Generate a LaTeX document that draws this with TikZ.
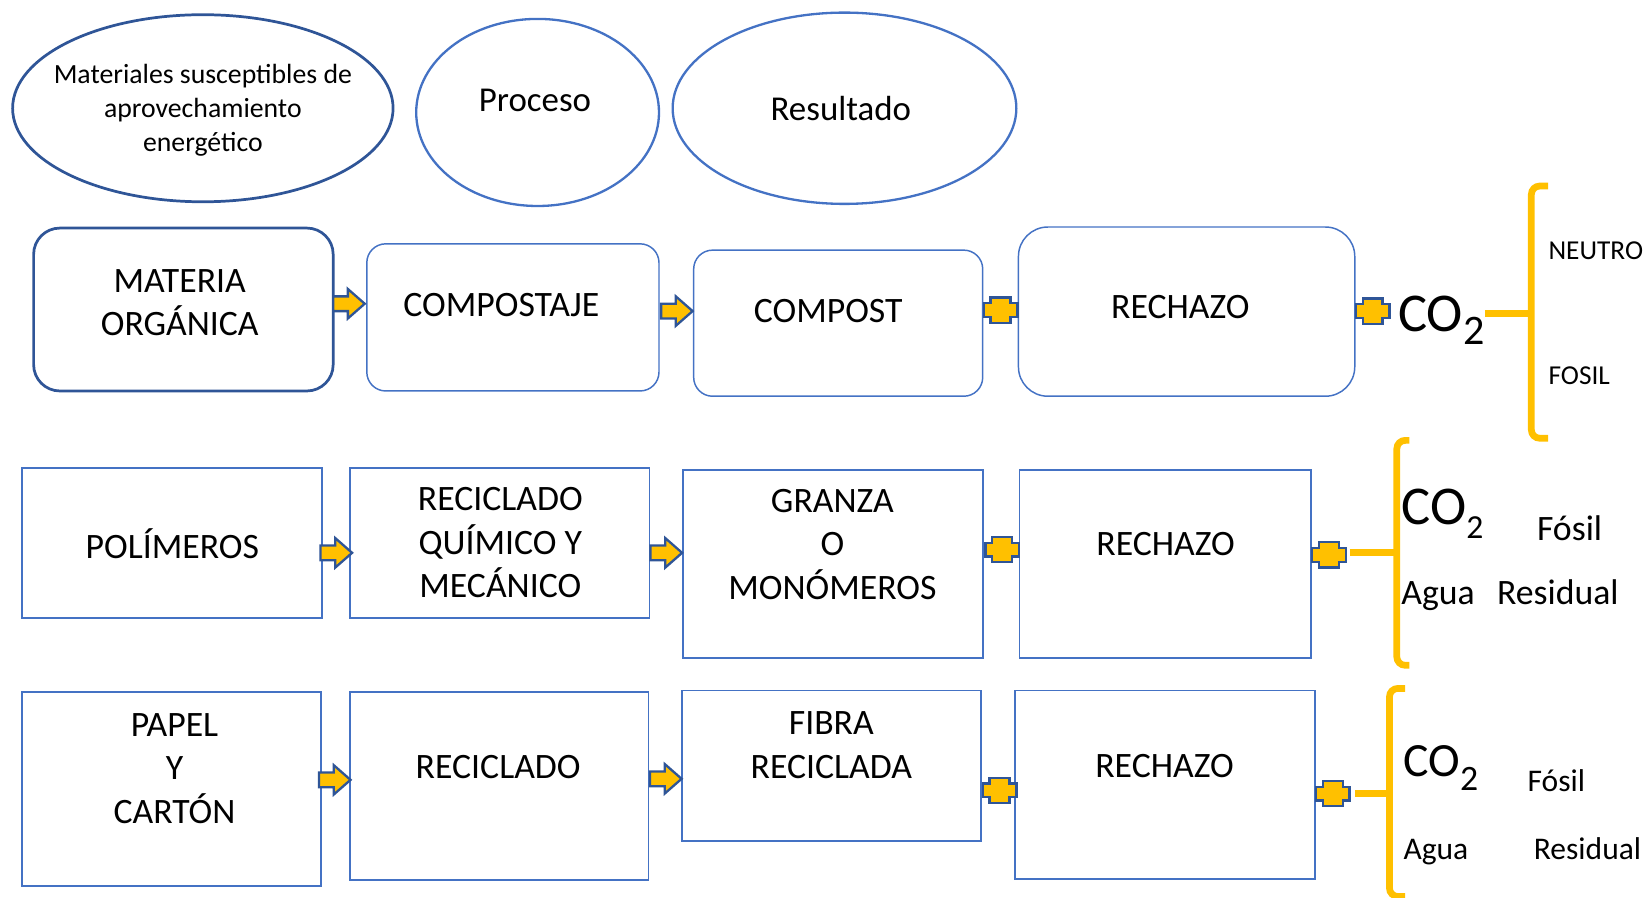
\documentclass[tikz,border=0pt]{standalone}
\usepackage{fontspec}
\setmainfont{Carlito}
\usetikzlibrary{fit,shapes.geometric,calc}
\definecolor{dkblue}{HTML}{2F5597}
\definecolor{mdblue}{HTML}{4472C4}
\definecolor{gold}{HTML}{FFC000}
\begin{document}
\begin{tikzpicture}[x=0.5pt,y=-0.5pt,
  ell/.style={ellipse, draw=mdblue, line width=1.1pt, inner sep=0pt},
  rbox/.style={draw=mdblue, line width=0.7pt, rounded corners=9pt, inner sep=0pt},
  sbox/.style={draw=mdblue, line width=0.9pt, inner sep=0pt},
  lbl/.style={align=center, font=\fontsize{17}{20.7}\selectfont, inner sep=0pt},
  side/.style={anchor=base west, inner sep=0pt},
  brace/.style={draw=gold, line width=3.2pt, rounded corners=4pt},
  blockarrow/.pic={\filldraw[fill=gold, draw=dkblue, line width=1.1pt, line join=miter]
     (-15,-7) -- (-1,-7) -- (-1,-14) -- (15,0) -- (-1,14) -- (-1,7) -- (-15,7) -- cycle;},
  plusmark/.pic={\filldraw[fill=gold, draw=dkblue, line width=1.1pt]
     (-9.5,-12) -- (9.5,-12) -- (9.5,-6.5) -- (16,-6.5) -- (16,6.5) -- (9.5,6.5) -- (9.5,12)
     -- (-9.5,12) -- (-9.5,6.5) -- (-16,6.5) -- (-16,-6.5) -- (-9.5,-6.5) -- cycle;}
]
\useasboundingbox (0,0) rectangle (1568,854);

% header ellipses
\node[ell, draw=dkblue, line width=1.3pt, minimum width=181pt, minimum height=89pt] (e1) at (193,103) {};
\node[ell, minimum width=115.5pt, minimum height=89pt] (e2) at (511.5,107) {};
\node[ell, minimum width=163.5pt, minimum height=91pt] (e3) at (803.5,103) {};
\node[align=center, font=\fontsize{13.2}{16}\selectfont, inner sep=0pt] (e1t) at (193,105)
  {Materiales susceptibles de\\aprovechamiento\\energético};
\node[font=\fontsize{16.6}{19}\selectfont, inner sep=0pt] (e2t) at (509,96) {Proceso};
\node[font=\fontsize{16.6}{19}\selectfont, inner sep=0pt] (e3t) at (800,103) {Resultado};

% row 1
\node[rbox, draw=dkblue, line width=1.3pt, rounded corners=12.5pt, fit={(32,217)(317,372)}] (mo) {};
\node[rbox, fit={(349,232)(627,372)}] (cj) {};
\node[rbox, fit={(660,238)(935,377)}] (cp) {};
\node[rbox, rounded corners=14pt, fit={(969,216)(1289,377)}] (rz1) {};
\node[lbl] (mot) at (171,288) {MATERIA\\ORGÁNICA};
\node[lbl] (cjt) at (477,290) {COMPOSTAJE};
\node[lbl] (cpt) at (788,296) {COMPOST};
\node[lbl] (rz1t) at (1123,292) {RECHAZO};
\pic at (332,289) {blockarrow};
\pic at (644,296) {blockarrow};
\pic at (952,295) {plusmark};
\pic at (1306,296) {plusmark};
\node[side, font=\fontsize{26}{26}\selectfont] (co1) at (1330,315.5)
  {CO\raisebox{-6.3pt}{\fontsize{20}{20}\selectfont 2}};
\draw[brace] (1473,177) -- (1457,177) -- (1457,417) -- (1473,417);
\draw[brace, rounded corners=0pt] (co1.east |- 0,298) -- (1457,298);
\node[side, font=\fontsize{13}{15}\selectfont] (neu) at (1473,246.5) {NEUTRO};
\node[side, font=\fontsize{13}{15}\selectfont] (fos) at (1473,366) {FOSIL};

% row 2
\node[sbox, fit={(21,445)(306,588)}] (pol) {};
\node[sbox, fit={(333,445)(618,588)}] (rq) {};
\node[sbox, fit={(650,447)(935,626)}] (gr) {};
\node[sbox, fit={(970,447)(1247,626)}] (rz2) {};
\node[lbl] (polt) at (164,517) {POLÍMEROS};
\node[lbl] (rqt) at (476,516.5) {RECICLADO\\QUÍMICO Y\\MECÁNICO};
\node[lbl] (grt) at (792,518) {GRANZA\\O\\MONÓMEROS};
\node[lbl] (rz2t) at (1109,518) {RECHAZO};
\pic at (320,526) {blockarrow};
\pic at (634,526) {blockarrow};
\pic at (953.5,523) {plusmark};
\pic at (1264.5,528) {plusmark};
\draw[brace] (1341,419) -- (1329,419) -- (1329,633) -- (1341,633);
\draw[brace, rounded corners=0pt] (1284,526) -- (1329,526);
\node[side, font=\fontsize{26}{26}\selectfont] (co2) at (1333,499.5)
  {CO\raisebox{-6.3pt}{\fontsize{16}{16}\selectfont 2}};
\node[side, font=\fontsize{17}{20}\selectfont] (fo2) at (1462,514) {Fósil};
\node[side, font=\fontsize{17}{20}\selectfont] (ag2) at (1333,575.6) {Agua};
\node[side, font=\fontsize{17}{20}\selectfont] (re2) at (1424,575.6) {Residual};

% row 3
\node[sbox, fit={(21,658)(305,843)}] (pc) {};
\node[sbox, fit={(333,658)(617,837)}] (rc) {};
\node[sbox, fit={(649,657)(933,800)}] (fb) {};
\node[sbox, fit={(966,657)(1251,836)}] (rz3) {};
\node[lbl] (pct) at (166,731) {PAPEL\\Y\\CARTÓN};
\node[lbl] (rct) at (474,730) {RECICLADO};
\node[lbl] (fbt) at (791,709) {FIBRA\\RECICLADA};
\node[lbl] (rz3t) at (1108,729) {RECHAZO};
\pic at (318.5,742) {blockarrow};
\pic at (633.5,741) {blockarrow};
\pic at (951,752) {plusmark};
\pic at (1268,755) {plusmark};
\draw[brace] (1337,655) -- (1322,655) -- (1322,853) -- (1337,853);
\draw[brace, rounded corners=0pt] (1289,755) -- (1322,755);
\node[side, font=\fontsize{22.7}{24}\selectfont] (co3) at (1335,739)
  {CO\raisebox{-6.8pt}{\fontsize{17}{17}\selectfont 2}};
\node[side, font=\fontsize{15}{18}\selectfont] (fo3) at (1453,753) {Fósil};
\node[side, font=\fontsize{15}{18}\selectfont] (ag3) at (1335,818) {Agua};
\node[side, font=\fontsize{15}{18}\selectfont] (re3) at (1459,818) {Residual};
\end{tikzpicture}
\end{document}
